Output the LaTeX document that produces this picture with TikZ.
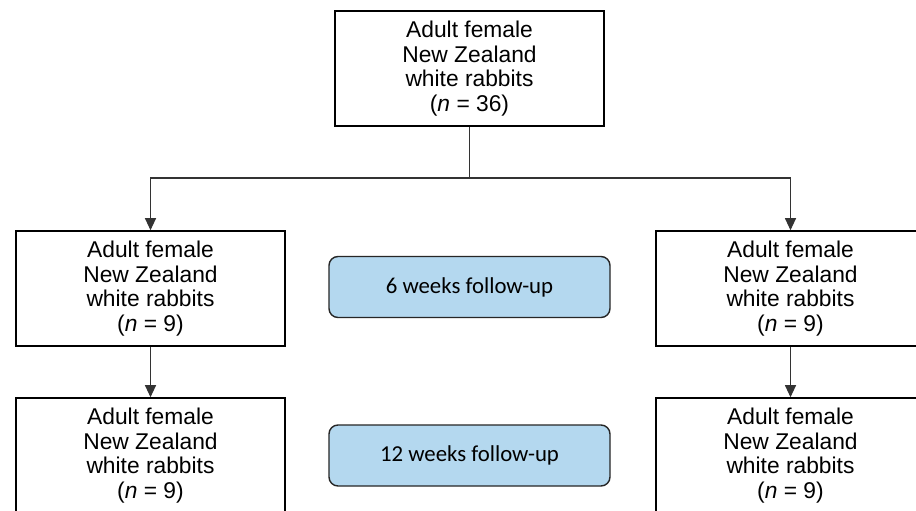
\documentclass[tikz,border=0pt]{standalone}
\usepackage{fontspec}
\setmainfont{Liberation Sans}
\newfontfamily\calfont{Carlito}
\usetikzlibrary{arrows.meta}
\begin{document}
\begin{tikzpicture}[x=1pt,y=-1pt,
  box/.style={draw=black,line width=1.6pt,fill=white,minimum width=269pt,minimum height=115pt,
    align=center,inner sep=0pt,font=\fontsize{22.8}{24.6}\selectfont},
  fup/.style={draw=black!85,line width=1.4pt,rounded corners=9pt,
    minimum width=281pt,minimum height=61pt,inner sep=0pt,font=\calfont\fontsize{22.8}{24}\selectfont},
  conn/.style={draw=black!80,line width=1.1pt},
  arr/.style={conn,-{Triangle[width=11pt,length=12pt]}}]
\clip (0,0) rectangle (916,511);
\fill[white] (0,0) rectangle (916,511);
\definecolor{fupblue}{HTML}{B4D8EF}
\node[box] (top) at (469.5,68.5) {Adult female\\New Zealand\\white rabbits\\(\textit{n} = 36)};
\node[box] (L1) at (150.5,288.5) {Adult female\\New Zealand\\white rabbits\\(\textit{n} = 9)};
\node[box] (R1) at (790.5,288.5) {Adult female\\New Zealand\\white rabbits\\(\textit{n} = 9)};
\node[box] (L2) at (150.5,455.5) {Adult female\\New Zealand\\white rabbits\\(\textit{n} = 9)};
\node[box] (R2) at (790.5,455.5) {Adult female\\New Zealand\\white rabbits\\(\textit{n} = 9)};
\node[fup,fill=fupblue] (f6) at (469.5,287) {6 weeks follow-up};
\node[fup,fill=fupblue] (f12) at (469.5,455.5) {12 weeks follow-up};
\coordinate (j) at (469.5,178);
\draw[conn] (top.south) -- (j);
\draw[arr] (j) -| (L1.north);
\draw[arr] (j) -| (R1.north);
\draw[arr] (L1.south) -- (L2.north);
\draw[arr] (R1.south) -- (R2.north);
\end{tikzpicture}
\end{document}
